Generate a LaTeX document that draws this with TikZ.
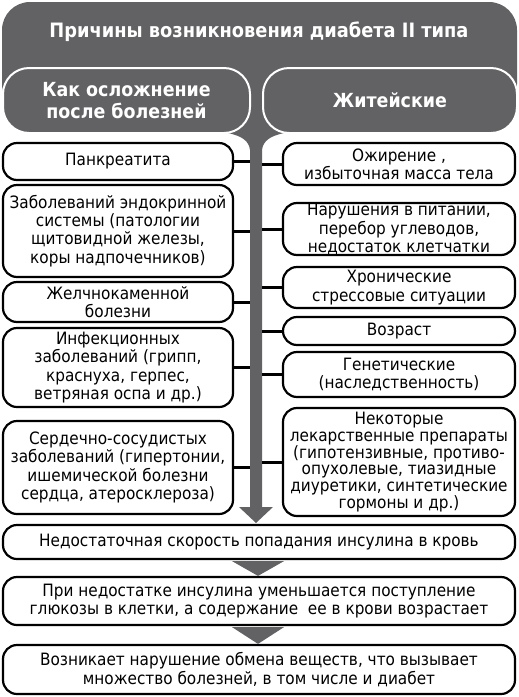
\documentclass[tikz,border=0pt]{standalone}
\usepackage{fontspec}
\setmainfont{DejaVu Sans Condensed}
\usetikzlibrary{calc}
\definecolor{darkbox}{RGB}{98,98,100}
\tikzset{%
  cause/.style  = {draw, line width = 2.2pt, rounded corners = 14pt, fill = white,
    inner sep = 0pt, align = center, font = \fontsize{17}{18.3}\selectfont},
  lcause/.style = {cause, minimum width = 230pt}, % left column
  rcause/.style = {cause, minimum width = 232pt}, % right column
  effect/.style = {cause, minimum width = 512pt}, % bottom chain
  header/.style = {draw = white, line width = 2pt, rounded corners = 26pt, fill = darkbox,
    text = white, inner sep = 0pt, align = center, minimum height = 65pt,
    font = \bfseries\fontsize{19.4}{22}\selectfont},
  link/.style   = {line width = 3pt}
}

\begin{document}
\begin{tikzpicture}[x = 1pt, y = -1pt]
\useasboundingbox (0,0) rectangle (519,697);
% title block and funnel
\fill[darkbox, rounded corners = 28pt] (2,2) rectangle (517,112);
\fill[darkbox] (236,105) -- (228,133) .. controls (242,136) and (249,141) .. (250,150)
  -- (250,507) -- (239,507) -- (256,523) -- (273,507) -- (262,507)
  -- (262,150) .. controls (263,141) and (270,136) .. (284,133) -- (276,105) -- cycle;
\node[text = white, font = \bfseries\fontsize{19.8}{22}\selectfont] (title) at (259,32)
  {Причины возникновения диабета II типа};
\coordinate (shaftL) at (250,0);
\coordinate (shaftR) at (262,0);
% headers
\draw
	(126.5,100.5) node [header, minimum width = 247pt] (hdis) {Как осложнение\\после болезней}
	(390,100.5) node [header, minimum width = 254pt] (hlife) {Житейские};
% left causes
\draw
	(118,161.5) node [lcause, minimum height = 37pt] (pank) {Панкреатита}
	(118,231) node [lcause, minimum height = 92pt] (endo) {Заболеваний эндокринной\\системы (патологии\\щитовидной железы,\\коры надпочечников)}
	(118,302) node [lcause, minimum height = 40pt] (gall) {Желчнокаменной\\болезни}
	(118,367.5) node [lcause, minimum height = 79pt] (infec) {Инфекционных\\заболеваний (грипп,\\краснуха, герпес,\\ветряная оспа и др.)}
	(118,467.5) node [lcause, minimum height = 93pt] (card) {Сердечно-сосудистых\\заболеваний (гипертонии,\\ишемической болезни\\сердца, атеросклероза)};
% right causes
\draw
	(399,164) node [rcause, minimum height = 42pt] (obes) {Ожирение ,\\избыточная масса тела}
	(399,229) node [rcause, minimum height = 52pt] (diet) {Нарушения в питании,\\перебор углеводов,\\недостаток клетчатки}
	(399,287.5) node [rcause, minimum height = 41pt] (stress) {Хронические\\стрессовые ситуации}
	(399,331) node [rcause, minimum height = 28pt] (age) {Возраст}
	(399,374.5) node [rcause, minimum height = 45pt] (gene) {Генетические\\(наследственность)}
	(399,462) node [rcause, minimum height = 108pt, font = \fontsize{17}{16.8}\selectfont] (drug) {Некоторые\\лекарственные препараты\\(гипотензивные, противо-\\опухолевые, тиазидные\\диуретики, синтетические\\гормоны и др.)};
% links to the shaft
\foreach \c in {pank, endo, gall, infec, card}
  \draw[link] (\c.east) -- (\c.east -| shaftL);
\foreach \c in {obes, diet, stress, age, gene, drug}
  \draw[link] (\c.west) -- (\c.west -| shaftR);
% bottom chain
\draw
	(259,542) node [effect, minimum height = 34pt] (ins) {Недостаточная скорость попадания инсулина в кровь}
	(259,601) node [effect, minimum height = 48pt] (gluc) {При недостатке инсулина уменьшается поступление\\глюкозы в клетки, а содержание\ \ ее в крови возрастает}
	(259,669.5) node [effect, minimum height = 49pt] (meta) {Возникает нарушение обмена веществ, что вызывает\\множество болезней, в том числе и диабет};
% chain arrows
\fill[darkbox] ($(ins.south) + (-27,1)$) -- ($(ins.south) + (25,1)$) -- ($(gluc.north) + (-1,0)$) -- cycle;
\fill[darkbox] ($(gluc.south) + (-27,1)$) -- ($(gluc.south) + (25,1)$) -- ($(meta.north) + (-1,0)$) -- cycle;
\end{tikzpicture}
\end{document}
